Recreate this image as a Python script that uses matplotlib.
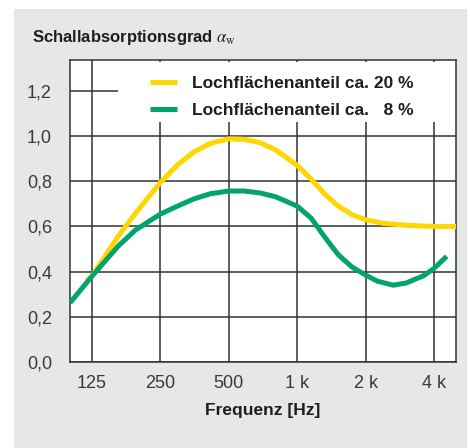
import matplotlib
matplotlib.use("Agg")
from matplotlib import pyplot as plt
from matplotlib.patches import Rectangle

# (Hz, alpha_w)
freq_20 = [118, 125, 163, 194, 250, 297, 351, 415, 500, 585, 690, 800, 878,
           1000, 1152, 1318, 1516, 1746, 2000, 2390, 3040, 4000, 5000]
alpha_20 = [0.36, 0.38, 0.557, 0.658, 0.795, 0.872, 0.93, 0.968, 0.988, 0.986,
            0.97, 0.94, 0.912, 0.87, 0.81, 0.745, 0.69, 0.652, 0.63, 0.614,
            0.605, 0.60, 0.60]

freq_8 = [100, 125, 163, 194, 250, 297, 351, 415, 500, 585, 690, 800, 878,
          1000, 1152, 1318, 1516, 1746, 2000, 2250, 2650, 3020, 3600, 4000, 4550]
alpha_8 = [0.262, 0.38, 0.513, 0.584, 0.655, 0.69, 0.722, 0.745, 0.757, 0.757,
           0.748, 0.732, 0.715, 0.69, 0.637, 0.555, 0.475, 0.42, 0.385, 0.358,
           0.34, 0.35, 0.382, 0.414, 0.468]

x_ticks = [125, 250, 500, 1000, 2000, 4000]
x_labels = ['125', '250', '500', '1 k', '2 k', '4 k']
y_ticks = [0.0, 0.2, 0.4, 0.6, 0.8, 1.0, 1.2]
y_labels = ['0,0', '0,2', '0,4', '0,6', '0,8', '1,0', '1,2']

label_20 = 'Lochflächenanteil ca. 20 %'
label_8 = 'Lochflächenanteil ca.   8 %'

yellow = '#FFD600'
green = '#00A46C'
grid_col = '#333333'

plt.rcParams['font.family'] = ['Liberation Sans', 'DejaVu Sans']
plt.rcParams['mathtext.fontset'] = 'stix'

fig = plt.figure(figsize=(4.70, 4.48), dpi=100, facecolor='white')
# grey panel behind the chart
panel = Rectangle((14 / 470, 0), 453 / 470, 439 / 448,
                  transform=fig.transFigure, facecolor='#E6E7E8',
                  edgecolor='none', zorder=-10)
fig.add_artist(panel)

ax = fig.add_axes([70 / 470, 86 / 448, 386 / 470, 302 / 448])
ax.set_zorder(5)
ax.set_facecolor('white')
ax.set_xscale('log')
ax.set_xlim(100, 5000)
ax.set_ylim(0, 1.337)

ax.set_xticks(x_ticks)
ax.set_xticklabels(x_labels)
ax.minorticks_off()
ax.set_yticks(y_ticks)
ax.set_yticklabels(y_labels)
ax.tick_params(length=0, labelsize=13, labelcolor='#3a3a3a')
ax.tick_params(axis='y', pad=13)
ax.tick_params(axis='x', pad=9)

for s in ax.spines.values():
    s.set_color(grid_col)
    s.set_linewidth(1.1)

ax.grid(True, color=grid_col, linewidth=1.1, zorder=1)
ax.set_axisbelow(True)

# white area behind the legend hides the grid
ax.add_patch(Rectangle((0.124, 0.795), 0.876, 0.198, transform=ax.transAxes,
                       facecolor='white', edgecolor='none', zorder=1.5))

ax.plot(freq_20, alpha_20, color=yellow, lw=3.6, solid_capstyle='butt',
        solid_joinstyle='round', zorder=3, label=label_20)
ax.plot(freq_8, alpha_8, color=green, lw=3.6, solid_capstyle='butt',
        solid_joinstyle='round', zorder=4, label=label_8)

leg = ax.legend(loc='upper left', bbox_to_anchor=(0.207, 0.948), frameon=False,
                borderpad=0, borderaxespad=0, handlelength=1.55,
                handletextpad=0.85, labelspacing=0.7,
                prop={'weight': 'bold', 'size': 12.5})
for t in leg.get_texts():
    t.set_color('#1e1e1e')

fig.text(32 / 470, (448 - 42) / 448, r'Schallabsorptionsgrad $\alpha_{\mathrm{w}}$',
         fontsize=12, fontweight='bold', color='#1e1e1e', ha='left', va='baseline')
fig.text(263 / 470, (448 - 410) / 448, 'Frequenz [Hz]', fontsize=12.5,
         fontweight='bold', color='#1e1e1e', ha='center', va='center')

fig.savefig('out.png', dpi=100, facecolor='white')
